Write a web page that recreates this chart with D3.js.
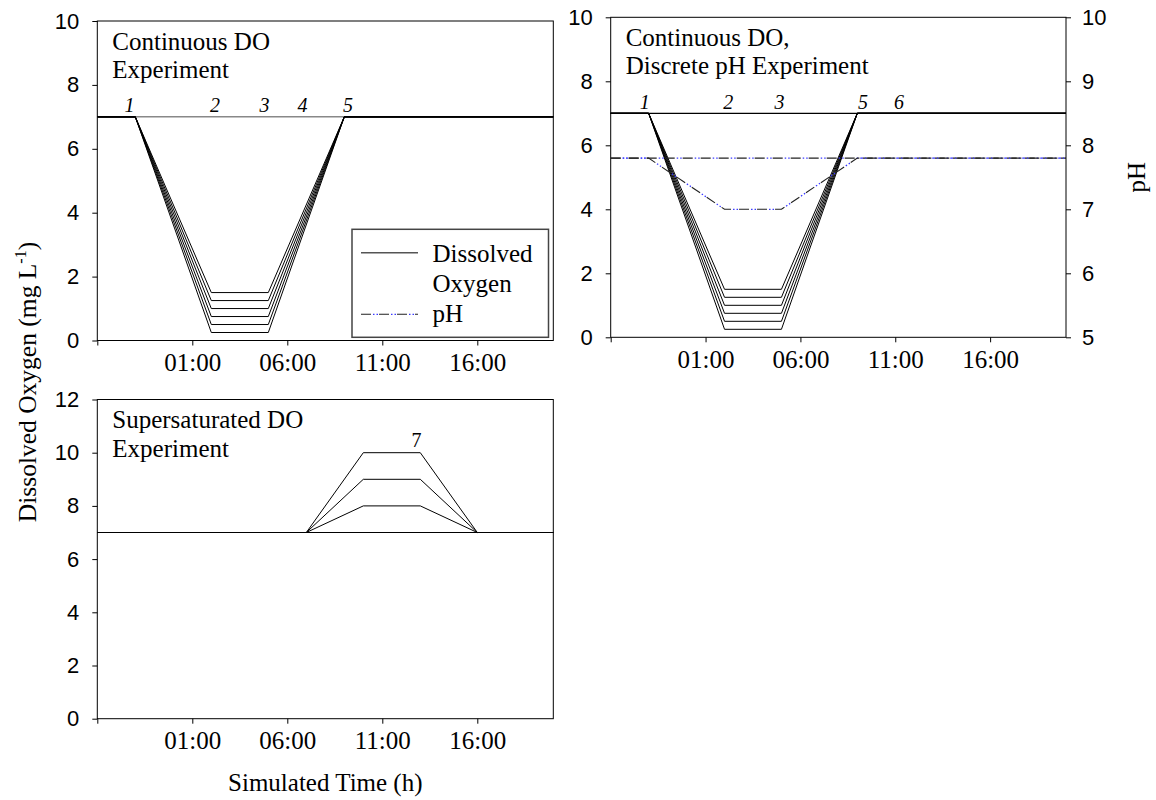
<!DOCTYPE html>
<html><head><meta charset="utf-8">
<script src="https://cdn.jsdelivr.net/npm/d3@7"></script>
<style>body{margin:0;background:#fff;} svg{display:block;}</style>
</head><body>
<svg id="c" width="1156" height="800"></svg>
<script>
// ---------- data ----------
const xTickValues = [0, 5, 10, 15, 20];
const xTickLabels = ["", "01:00", "06:00", "11:00", "16:00"];
const doTicksTop = [0, 2, 4, 6, 8, 10];
const doTicksBottom = [0, 2, 4, 6, 8, 10, 12];
const phTicks = [5, 6, 7, 8, 9, 10];

const controlHours = [0, 24];
const controlDO = [7, 7];

const drawdownHours = [0, 2, 6, 9, 13, 24];
const doDrawdown025 = [7, 7, 0.25, 0.25, 7, 7];
const doDrawdown050 = [7, 7, 0.50, 0.50, 7, 7];
const doDrawdown075 = [7, 7, 0.75, 0.75, 7, 7];
const doDrawdown100 = [7, 7, 1.00, 1.00, 7, 7];
const doDrawdown125 = [7, 7, 1.25, 1.25, 7, 7];
const doDrawdown150 = [7, 7, 1.50, 1.50, 7, 7];

const phHours = [0, 2, 6, 9, 13, 24];
const phConstant = [7.8, 7.8, 7.8, 7.8, 7.8, 7.8];
const phDrop = [7.8, 7.8, 7.0, 7.0, 7.8, 7.8];

const superHours = [0, 11, 14, 17, 20, 24];
const doSuper8 = [7, 7, 8, 8, 7, 7];
const doSuper9 = [7, 7, 9, 9, 7, 7];
const doSuper10 = [7, 7, 10, 10, 7, 7];

const eventLabelsTL = ["1", "2", "3", "4", "5"];
const eventHoursTL = [1.7, 6.2, 8.8, 10.8, 13.2];
const eventLabelsTR = ["1", "2", "3", "5", "6"];
const eventHoursTR = [1.8, 6.2, 8.9, 13.3, 15.2];
const eventLabelsB = ["7"];
const eventHoursB = [16.8];

const titleTL = ["Continuous DO", "Experiment"];
const titleTR = ["Continuous DO,", "Discrete pH Experiment"];
const titleB = ["Supersaturated DO", "Experiment"];

// ---------- drawing ----------
const SERIF = "'Liberation Serif','Times New Roman',serif";
const SANS = "'Liberation Sans',Arial,sans-serif";
const svg = d3.select("#c");
svg.append("rect").attr("width", 1156).attr("height", 800).attr("fill", "#fff");

function panel(box, yDomain, yTicks) {
  const x = d3.scaleLinear().domain([0, 24]).range([box.l, box.r]);
  const y = d3.scaleLinear().domain(yDomain).range([box.b, box.t]);
  const g = svg.append("g");
  g.append("rect").attr("x", box.l).attr("y", box.t)
    .attr("width", box.r - box.l).attr("height", box.b - box.t)
    .attr("fill", "none").attr("stroke", "#000").attr("stroke-width", 1);
  const ax = g.append("g").attr("transform", `translate(0,${box.b})`)
    .call(d3.axisBottom(x).tickValues(xTickValues)
      .tickFormat((d, i) => xTickLabels[i]).tickSize(5).tickSizeOuter(0));
  ax.select(".domain").remove();
  ax.selectAll("text").attr("y", 30.5).attr("dy", 0)
    .style("font-family", SERIF).style("font-size", "25px").attr("fill", "#000");
  const ay = g.append("g").attr("transform", `translate(${box.l},0)`)
    .call(d3.axisLeft(y).tickValues(yTicks).tickFormat(d3.format("d"))
      .tickSize(5).tickPadding(13).tickSizeOuter(0));
  ay.select(".domain").remove();
  ay.selectAll("text").style("font-family", SANS).style("font-size", "22px").attr("fill", "#000");
  return {x, y, g};
}

function line(p, xs, ys, yScale) {
  const ys2 = yScale || p.y;
  return d3.line().x((d, i) => p.x(xs[i])).y((d) => ys2(d))(ys);
}

function drawDO(p, xs, series, color, width) {
  p.g.append("path").attr("d", line(p, xs, series))
    .attr("fill", "none").attr("stroke", color || "#000").attr("stroke-width", width || 1);
}

function drawPH(g, d) {
  g.append("path").attr("d", d).attr("fill", "none")
    .attr("stroke", "#222").attr("stroke-width", 1.1).attr("stroke-dasharray", "10,8");
  g.append("path").attr("d", d).attr("fill", "none")
    .attr("stroke", "#3a3aff").attr("stroke-width", 1.3).attr("stroke-dasharray", "0,12,1.5,2,1.5,1");
}

function title(p, box, lines) {
  lines.forEach((t, i) => {
    p.g.append("text").attr("x", box.l + 15).attr("y", box.t + 28.5 + i * 28.5)
      .style("font-family", SERIF).style("font-size", "25px").text(t);
  });
}

function events(p, labels, hours, yv, italic) {
  labels.forEach((t, i) => {
    p.g.append("text").attr("x", p.x(hours[i])).attr("y", p.y(yv))
      .attr("text-anchor", "middle")
      .style("font-family", SERIF).style("font-size", "20px")
      .style("font-style", italic ? "italic" : "normal").text(t);
  });
}

const drawdowns = [doDrawdown025, doDrawdown050, doDrawdown075, doDrawdown100, doDrawdown125, doDrawdown150];

// top-left
const bTL = {l: 97.3, r: 553.3, t: 21, b: 340.5};
const pTL = panel(bTL, [0, 10], doTicksTop);
drawDO(pTL, controlHours, controlDO, "#888", 1.5);
drawdowns.forEach(s => drawDO(pTL, drawdownHours, s));
events(pTL, eventLabelsTL, eventHoursTL, 7.15, true);
title(pTL, bTL, titleTL);

// legend
const lg = pTL.g.append("g");
lg.append("rect").attr("x", 352).attr("y", 229.3).attr("width", 196.5).attr("height", 108)
  .attr("fill", "#fff").attr("stroke", "#444").attr("stroke-width", 1.5);
lg.append("line").attr("x1", 361).attr("x2", 418).attr("y1", 252.7).attr("y2", 252.7)
  .attr("stroke", "#555").attr("stroke-width", 1.5);
drawPH(lg, "M361,314.3L418,314.3");
[["Dissolved", 261.5], ["Oxygen", 291.5], ["pH", 321.7]].forEach(([t, yy]) => {
  lg.append("text").attr("x", 432.5).attr("y", yy)
    .style("font-family", SERIF).style("font-size", "25px").text(t);
});

// top-right
const bTR = {l: 610.7, r: 1066, t: 17.3, b: 337.3};
const pTR = panel(bTR, [0, 10], doTicksTop);
const yPH = d3.scaleLinear().domain([5, 10]).range([bTR.b, bTR.t]);
const ar = pTR.g.append("g").attr("transform", `translate(${bTR.r},0)`)
  .call(d3.axisRight(yPH).tickValues(phTicks).tickFormat(d3.format("d"))
    .tickSize(5).tickPadding(11).tickSizeOuter(0));
ar.select(".domain").remove();
ar.selectAll("text").style("font-family", SANS).style("font-size", "22px").attr("fill", "#000");
drawDO(pTR, controlHours, controlDO, "#000", 1.2);
drawdowns.forEach(s => drawDO(pTR, drawdownHours, s));
drawPH(pTR.g, line(pTR, phHours, phConstant, yPH));
drawPH(pTR.g, line(pTR, phHours, phDrop, yPH));
events(pTR, eventLabelsTR, eventHoursTR, 7.15, true);
title(pTR, bTR, titleTR);
svg.append("text").attr("transform", `translate(1145,${(bTR.t + bTR.b) / 2}) rotate(-90)`)
  .attr("text-anchor", "middle").style("font-family", SERIF).style("font-size", "25px").text("pH");

// bottom
const bB = {l: 97.3, r: 553.3, t: 399.5, b: 718.7};
const pB = panel(bB, [0, 12], doTicksBottom);
[doSuper8, doSuper9, doSuper10].forEach(s => drawDO(pB, superHours, s));
drawDO(pB, controlHours, controlDO, "#000", 1.2);
events(pB, eventLabelsB, eventHoursB, 10.2, false);
title(pB, bB, titleB);

// axis titles
const yt = svg.append("text").attr("transform", "translate(36,382) rotate(-90)")
  .attr("text-anchor", "middle").style("font-family", SERIF).style("font-size", "25.5px");
yt.append("tspan").text("Dissolved Oxygen (mg L");
yt.append("tspan").attr("dy", -10).style("font-size", "16px").text("-1");
yt.append("tspan").attr("dy", 10).text(")");
svg.append("text").attr("x", 325.3).attr("y", 791).attr("text-anchor", "middle")
  .style("font-family", SERIF).style("font-size", "25px").text("Simulated Time (h)");
</script>
</body></html>
